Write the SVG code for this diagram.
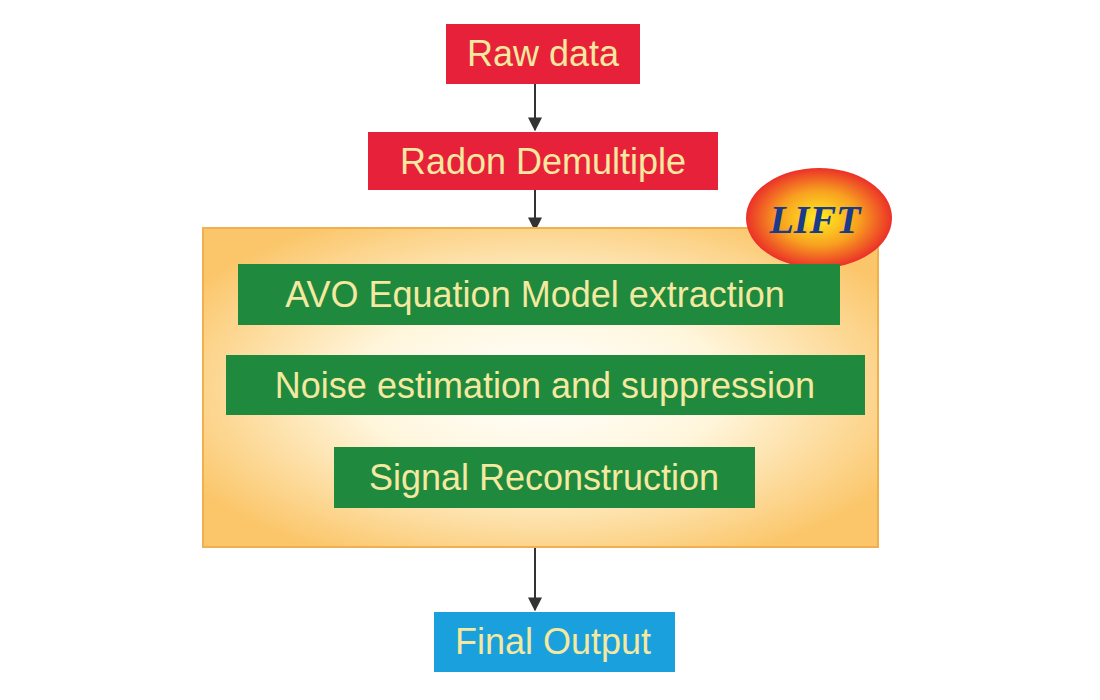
<svg xmlns="http://www.w3.org/2000/svg" width="1100" height="700" viewBox="0 0 1100 700">
<defs>
<radialGradient id="bg" cx="0.5" cy="0.5" r="0.6">
<stop offset="0" stop-color="#ffffff"/><stop offset="0.45" stop-color="#fff6dc"/><stop offset="1" stop-color="#fbc66a"/>
</radialGradient>
<radialGradient id="lift" cx="0.5" cy="0.5" r="0.55">
<stop offset="0" stop-color="#ffee22"/><stop offset="0.5" stop-color="#f8a020"/><stop offset="1" stop-color="#e8182a"/>
</radialGradient>
<marker id="ah" viewBox="0 0 10 10" refX="9" refY="5" markerWidth="7" markerHeight="7" orient="auto"><path d="M0,0L10,5L0,10z" fill="#333"/></marker>
<style>
text{font-family:"Liberation Sans",Arial,sans-serif;fill:#f5e8a0;font-size:36px;text-anchor:middle}
.red{fill:#e8213a}.green{fill:#1f8a3e}.blue{fill:#1aa0dc}
.c{stroke:#333;stroke-width:2;fill:none;marker-end:url(#ah)}
</style>
</defs>
<rect width="1100" height="700" fill="#fff"/>
<g id="connectors">
<line class="c" x1="535" y1="84" x2="535" y2="130"/>
<line class="c" x1="535" y1="190" x2="535" y2="230"/>
<line class="c" x1="535" y1="540" x2="535" y2="610"/>
</g>
<g id="lift-box"><rect x="203" y="228" width="675" height="319" fill="url(#bg)" stroke="#f0b050" stroke-width="2"/></g>
<g id="lift-badge"><ellipse cx="819" cy="218" rx="73" ry="50" fill="url(#lift)"/>
<text x="815" y="233" style="font-family:'Liberation Serif',serif;font-style:italic;font-weight:bold;fill:#1a3a8a;font-size:40px">LIFT</text></g>
<g id="raw"><rect class="red" x="446" y="24" width="194" height="60"/><text x="543" y="66">Raw data</text></g>
<g id="radon"><rect class="red" x="368" y="132" width="350" height="58"/><text x="543" y="174">Radon Demultiple</text></g>
<g id="avo"><rect class="green" x="238" y="264" width="602" height="61"/><text x="535" y="307">AVO Equation Model extraction</text></g>
<g id="noise"><rect class="green" x="226" y="355" width="639" height="60"/><text x="545" y="398">Noise estimation and suppression</text></g>
<g id="signal"><rect class="green" x="334" y="447" width="421" height="61"/><text x="544" y="490">Signal Reconstruction</text></g>
<g id="final"><rect class="blue" x="434" y="612" width="241" height="60"/><text x="553" y="654">Final Output</text></g>
</svg>
